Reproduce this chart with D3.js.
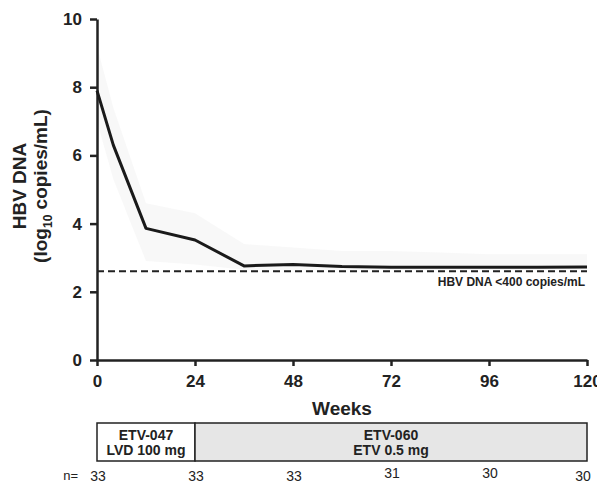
<!DOCTYPE html>
<html>
<head>
<meta charset="utf-8">
<script src="https://cdn.jsdelivr.net/npm/d3@7"></script>
<style>
  body { margin: 0; background: #fff; }
  svg text { font-family: "Liberation Sans", Arial, sans-serif; font-weight: bold; fill: #222; }
</style>
</head>
<body>
<svg width="597" height="486"></svg>
<script>
// Data
const weeks = [0, 4, 12, 24, 36, 48, 60, 72, 84, 96, 108, 120];
const meanDNA = [7.9, 6.3, 3.86, 3.52, 2.76, 2.8, 2.74, 2.72, 2.72, 2.72, 2.72, 2.73];
// faint spread of individual patients (upper / lower envelope)
const spreadHigh = [9.2, 7.4, 4.6, 4.3, 3.4, 3.3, 3.2, 3.2, 3.15, 3.1, 3.1, 3.1];
const spreadLow = [7.0, 5.3, 2.9, 2.8, 2.65, 2.65, 2.65, 2.65, 2.65, 2.65, 2.65, 2.65];
const xTicks = [0, 24, 48, 72, 96, 120];
const yTicks = [0, 2, 4, 6, 8, 10];
const lloq = 2.6; // log10(400)
const nWeeks = [0, 24, 48, 72, 96, 120];
const nValues = [33, 33, 33, 31, 30, 30];
const phases = [
  {start: 0, end: 24, lines: ["ETV-047", "LVD 100 mg"], fill: "#fff"},
  {start: 24, end: 120, lines: ["ETV-060", "ETV 0.5 mg"], fill: "#e6e6e6"}
];

const svg = d3.select("svg");
const x = d3.scaleLinear().domain([0, 120]).range([97, 587]);
const y = d3.scaleLinear().domain([0, 10]).range([360, 19]);

// individual patient spread
svg.append("path")
   .datum(weeks.map((w, i) => [w, spreadLow[i], spreadHigh[i]]))
   .attr("fill", "#aaa")
   .attr("opacity", 0.08)
   .attr("d", d3.area().x(d => x(d[0])).y0(d => y(d[1])).y1(d => y(d[2])));

// axes
const xAxis = svg.append("g")
   .attr("transform", `translate(0,${y(0)})`)
   .call(d3.axisBottom(x).tickValues(xTicks).tickSize(6).tickPadding(5).tickSizeOuter(0));
const yAxis = svg.append("g")
   .attr("transform", `translate(${x(0)},0)`)
   .call(d3.axisLeft(y).tickValues(yTicks).tickSize(7).tickPadding(6).tickSizeOuter(0));

[xAxis, yAxis].forEach(function(g){
  g.select(".domain").attr("stroke", "#222").attr("stroke-width", 2.5);
  g.selectAll(".tick line").attr("stroke", "#222").attr("stroke-width", 2.5);
  g.selectAll(".tick text").style("font-size", "17px").style("font-weight", "bold").attr("fill", "#222");
});
xAxis.selectAll(".tick text").attr("dy", "0.95em");
yAxis.selectAll(".tick text").attr("dx", "-2");

// lower limit line
svg.append("line")
   .attr("x1", x(0)).attr("x2", x(120))
   .attr("y1", y(lloq)).attr("y2", y(lloq))
   .attr("stroke", "#222").attr("stroke-width", 2)
   .attr("stroke-dasharray", "7,4");
svg.append("text")
   .attr("x", x(120) - 2).attr("y", y(lloq) + 15)
   .attr("text-anchor", "end")
   .style("font-size", "12px")
   .text("HBV DNA <400 copies/mL");

// mean line
svg.append("path")
   .datum(weeks.map((w, i) => [w, meanDNA[i]]))
   .attr("fill", "none")
   .attr("stroke", "#1a1a1a")
   .attr("stroke-width", 3)
   .attr("stroke-linejoin", "round")
   .attr("d", d3.line().x(d => x(d[0])).y(d => y(d[1])));

// axis titles
svg.append("text")
   .attr("transform", "translate(26,186) rotate(-90)")
   .attr("text-anchor", "middle")
   .style("font-size", "19px")
   .text("HBV DNA");
const yt = svg.append("text")
   .attr("transform", "translate(47,186) rotate(-90)")
   .attr("text-anchor", "middle")
   .style("font-size", "19px");
yt.append("tspan").text("(log");
yt.append("tspan").attr("dy", 5).style("font-size", "12px").text("10");
yt.append("tspan").attr("dy", -5).text(" copies/mL)");

svg.append("text")
   .attr("x", (x(0) + x(120)) / 2).attr("y", 415)
   .attr("text-anchor", "middle")
   .style("font-size", "19px")
   .text("Weeks");

// study phase boxes
const box = svg.append("g");
box.selectAll("rect")
   .data(phases)
   .enter()
   .append("rect")
   .attr("x", d => x(d.start))
   .attr("y", 423)
   .attr("width", d => x(d.end) - x(d.start))
   .attr("height", 38)
   .attr("fill", d => d.fill)
   .attr("stroke", "#222")
   .attr("stroke-width", 1.5);
phases.forEach(function(p){
  p.lines.forEach(function(t, i){
    box.append("text")
       .attr("x", (x(p.start) + x(p.end)) / 2)
       .attr("y", 440 + i * 15)
       .attr("text-anchor", "middle")
       .style("font-size", "14px")
       .text(t);
  });
});

// number of patients
svg.append("text")
   .attr("x", 78).attr("y", 480)
   .attr("text-anchor", "end")
   .style("font-size", "13px").style("font-weight", "normal")
   .text("n=");
svg.selectAll("text.n")
   .data(nValues)
   .enter()
   .append("text")
   .attr("class", "n")
   .attr("x", (d, i) => x(nWeeks[i]) + (i === 5 ? -4 : 1))
   .attr("y", (d, i) => i === 3 || i === 4 ? 478 : 481)
   .attr("text-anchor", "middle")
   .style("font-size", "14px").style("font-weight", "normal")
   .text(d => d);
</script>
</body>
</html>
